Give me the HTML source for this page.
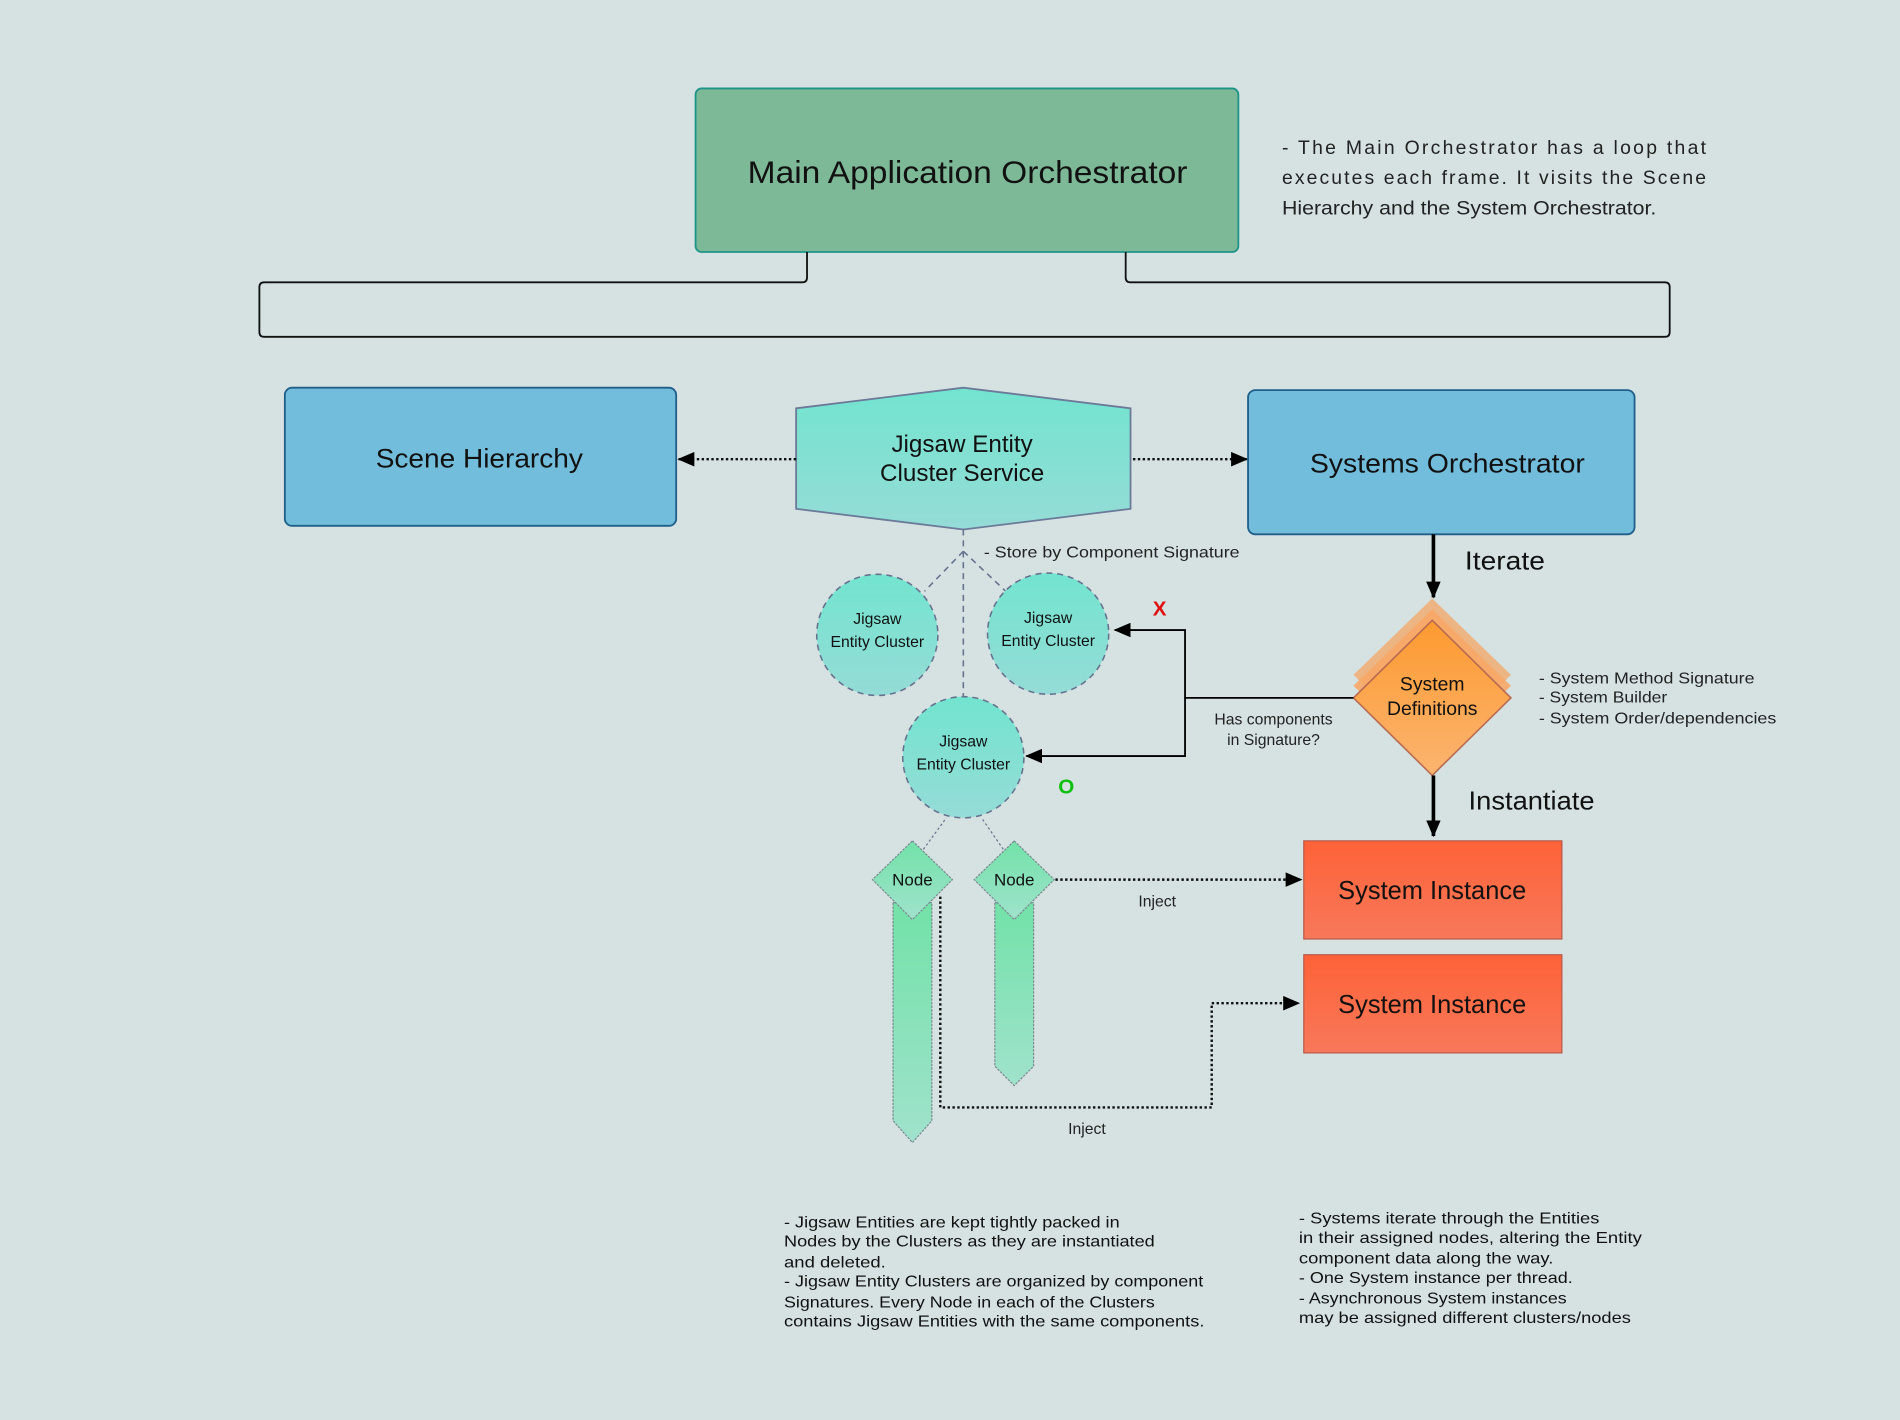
<!DOCTYPE html>
<html><head><meta charset="utf-8"><style>
html,body{margin:0;padding:0;background:#d6e2e2;}
svg{display:block;font-family:"Liberation Sans",sans-serif;}
</style></head><body>
<svg width="1900" height="1420" viewBox="0 0 1568 1172" xmlns="http://www.w3.org/2000/svg">
<defs>
<linearGradient id="tq" x1="0" y1="0" x2="0" y2="1"><stop offset="0" stop-color="#72e4cf"/><stop offset="1" stop-color="#95dcd7"/></linearGradient>
<linearGradient id="gr" x1="0" y1="0" x2="0" y2="1"><stop offset="0" stop-color="#72e2a8"/><stop offset="1" stop-color="#a0e2cc"/></linearGradient>
<linearGradient id="or" x1="0" y1="0" x2="0" y2="1"><stop offset="0" stop-color="#fd9a30"/><stop offset="1" stop-color="#fbb470"/></linearGradient>
<linearGradient id="rd" x1="0" y1="0" x2="0" y2="1"><stop offset="0" stop-color="#fe6238"/><stop offset="1" stop-color="#f7785a"/></linearGradient>
<marker id="ahb" markerWidth="14" markerHeight="12" refX="13" refY="6" orient="auto" markerUnits="userSpaceOnUse"><path d="M0,0 L14,6 L0,12 z" fill="#000"/></marker>
</defs>
<rect width="1568" height="1172" fill="#d6e2e2"/>

<rect x="574" y="73" width="448" height="135" rx="5" fill="#7db897" stroke="#1f9488" stroke-width="1.5"/>
<text x="617" y="151" font-size="26" textLength="363" lengthAdjust="spacingAndGlyphs" fill="#111">Main Application Orchestrator</text>
<g font-size="16" fill="#222">
<text x="1058" y="127" textLength="350" lengthAdjust="spacing">- The Main Orchestrator has a loop that</text>
<text x="1058" y="152" textLength="350" lengthAdjust="spacing">executes each frame. It visits the Scene</text>
<text x="1058" y="177" textLength="309" lengthAdjust="spacingAndGlyphs">Hierarchy and the System Orchestrator.</text>
</g>

<path d="M666,208 V229 Q666,233 662,233 H218 Q214,233 214,237 V274 Q214,278 218,278 H1374 Q1378,278 1378,274 V237 Q1378,233 1374,233 H933 Q929,233 929,229 V208" fill="none" stroke="#111" stroke-width="1.5"/>

<rect x="235" y="320" width="323" height="114" rx="6" fill="#72bddb" stroke="#1f5f8a" stroke-width="1.5"/>
<text x="310" y="386" font-size="22" textLength="171" lengthAdjust="spacingAndGlyphs" fill="#111">Scene Hierarchy</text>

<polygon points="657,337 795,320 933,337 933,420 795,437 657,420" fill="url(#tq)" stroke="#6b7a99" stroke-width="1.5"/>
<text x="794" y="373" font-size="20" text-anchor="middle" fill="#111">Jigsaw Entity</text>
<text x="794" y="397" font-size="20" text-anchor="middle" fill="#111">Cluster Service</text>

<line x1="657" y1="379" x2="560" y2="379" stroke="#111" stroke-width="2" stroke-dasharray="2,2" marker-end="url(#ahb)"/>
<line x1="935" y1="379" x2="1029" y2="379" stroke="#111" stroke-width="2" stroke-dasharray="2,2" marker-end="url(#ahb)"/>

<rect x="1030" y="322" width="319" height="119" rx="6" fill="#72bddb" stroke="#1f5f8a" stroke-width="1.5"/>
<text x="1081" y="390" font-size="22" textLength="227" lengthAdjust="spacingAndGlyphs" fill="#111">Systems Orchestrator</text>

<g stroke="#65738f" stroke-width="1.3" stroke-dasharray="5,4" fill="none">
<line x1="795" y1="437" x2="795" y2="575"/>
<line x1="795" y1="455" x2="763" y2="488"/>
<line x1="795" y1="455" x2="830" y2="488"/>
</g>
<text x="812" y="460" font-size="13" textLength="211" lengthAdjust="spacingAndGlyphs" fill="#222">- Store by Component Signature</text>

<g stroke="#65738f" stroke-width="1.3" stroke-dasharray="5,4" fill="url(#tq)">
<circle cx="724" cy="524" r="50"/>
<circle cx="865" cy="523" r="50"/>
<circle cx="795" cy="625" r="50"/>
</g>
<g font-size="13" text-anchor="middle" fill="#111">
<text x="724" y="515">Jigsaw</text><text x="724" y="534">Entity Cluster</text>
<text x="865" y="514">Jigsaw</text><text x="865" y="533">Entity Cluster</text>
<text x="795" y="616">Jigsaw</text><text x="795" y="635">Entity Cluster</text>
</g>

<line x1="1183" y1="441" x2="1183" y2="493" stroke="#000" stroke-width="3" marker-end="url(#ahb)"/>
<text x="1209" y="470" font-size="21" textLength="66" lengthAdjust="spacingAndGlyphs" fill="#111">Iterate</text>

<polygon points="1182,494 1247,557 1182,621 1117,557" fill="#f0b07a" opacity="0.9"/>
<polygon points="1182,503 1247,566 1182,630 1117,566" fill="#f7a766" opacity="0.9"/>
<polygon points="1182,512 1247,576 1182,640 1117,576" fill="url(#or)" stroke="#b86a50" stroke-width="1.3"/>
<text x="1182" y="570" font-size="16" text-anchor="middle" fill="#111">System</text>
<text x="1182" y="590" font-size="16" text-anchor="middle" fill="#111">Definitions</text>
<g font-size="13" fill="#222">
<text x="1270" y="564" textLength="178" lengthAdjust="spacingAndGlyphs">- System Method Signature</text>
<text x="1270" y="580" textLength="106" lengthAdjust="spacingAndGlyphs">- System Builder</text>
<text x="1270" y="597" textLength="196" lengthAdjust="spacingAndGlyphs">- System Order/dependencies</text>
</g>

<path d="M1117,576 H978 V520 H920" fill="none" stroke="#000" stroke-width="1.5" marker-end="url(#ahb)"/>
<path d="M978,576 V624 H847" fill="none" stroke="#000" stroke-width="1.5" marker-end="url(#ahb)"/>
<text x="1051" y="598" font-size="13" text-anchor="middle" fill="#222">Has components</text>
<text x="1051" y="615" font-size="13" text-anchor="middle" fill="#222">in Signature?</text>
<text x="957" y="508" font-size="17" font-weight="bold" text-anchor="middle" fill="#e01010">X</text>
<text x="880" y="655" font-size="17" font-weight="bold" text-anchor="middle" fill="#10c010">O</text>

<line x1="1183" y1="640" x2="1183" y2="690" stroke="#000" stroke-width="3" marker-end="url(#ahb)"/>
<text x="1212" y="668" font-size="21" textLength="104" lengthAdjust="spacingAndGlyphs" fill="#111">Instantiate</text>

<rect x="1076" y="694" width="213" height="81" fill="url(#rd)" stroke="#b85848" stroke-width="1"/>
<text x="1182" y="742" font-size="21" text-anchor="middle" fill="#111">System Instance</text>
<rect x="1076" y="788" width="213" height="81" fill="url(#rd)" stroke="#b85848" stroke-width="1"/>
<text x="1182" y="836" font-size="21" text-anchor="middle" fill="#111">System Instance</text>

<g stroke="#7a8a90" stroke-width="1" stroke-dasharray="2,1" fill="url(#gr)">
<polygon points="737,745 769,745 769,925 753,943 737,925"/>
<polygon points="821,745 853,745 853,880 837,896 821,880"/>
<polygon points="753,694 786,726 753,759 720,726"/>
<polygon points="837,694 870,726 837,759 804,726"/>
</g>
<g stroke="#65738f" stroke-width="1" stroke-dasharray="2,2">
<line x1="762" y1="701" x2="781" y2="675"/>
<line x1="828" y1="701" x2="810" y2="675"/>
</g>
<text x="753" y="731" font-size="14" text-anchor="middle" fill="#111">Node</text>
<text x="837" y="731" font-size="14" text-anchor="middle" fill="#111">Node</text>

<line x1="871" y1="726" x2="1074" y2="726" stroke="#111" stroke-width="2" stroke-dasharray="2,2" marker-end="url(#ahb)"/>
<text x="955" y="748" font-size="13" text-anchor="middle" fill="#222">Inject</text>
<path d="M776,740 V914 H1000 V828 H1072" fill="none" stroke="#111" stroke-width="2" stroke-dasharray="2,2" marker-end="url(#ahb)"/>
<text x="897" y="936" font-size="13" text-anchor="middle" fill="#222">Inject</text>

<g font-size="13" fill="#111">
<text x="647" y="1013" textLength="277" lengthAdjust="spacingAndGlyphs">- Jigsaw Entities are kept tightly packed in</text>
<text x="647" y="1029" textLength="306" lengthAdjust="spacingAndGlyphs">Nodes by the Clusters as they are instantiated</text>
<text x="647" y="1046" textLength="84" lengthAdjust="spacingAndGlyphs">and deleted.</text>
<text x="647" y="1062" textLength="346" lengthAdjust="spacingAndGlyphs">- Jigsaw Entity Clusters are organized by component</text>
<text x="647" y="1079" textLength="306" lengthAdjust="spacingAndGlyphs">Signatures. Every Node in each of the Clusters</text>
<text x="647" y="1095" textLength="347" lengthAdjust="spacingAndGlyphs">contains Jigsaw Entities with the same components.</text>
<text x="1072" y="1010" textLength="248" lengthAdjust="spacingAndGlyphs">- Systems iterate through the Entities</text>
<text x="1072" y="1026" textLength="283" lengthAdjust="spacingAndGlyphs">in their assigned nodes, altering the Entity</text>
<text x="1072" y="1043" textLength="210" lengthAdjust="spacingAndGlyphs">component data along the way.</text>
<text x="1072" y="1059" textLength="226" lengthAdjust="spacingAndGlyphs">- One System instance per thread.</text>
<text x="1072" y="1076" textLength="221" lengthAdjust="spacingAndGlyphs">- Asynchronous System instances</text>
<text x="1072" y="1092" textLength="274" lengthAdjust="spacingAndGlyphs">may be assigned different clusters/nodes</text>
</g>
</svg>
</body></html>
